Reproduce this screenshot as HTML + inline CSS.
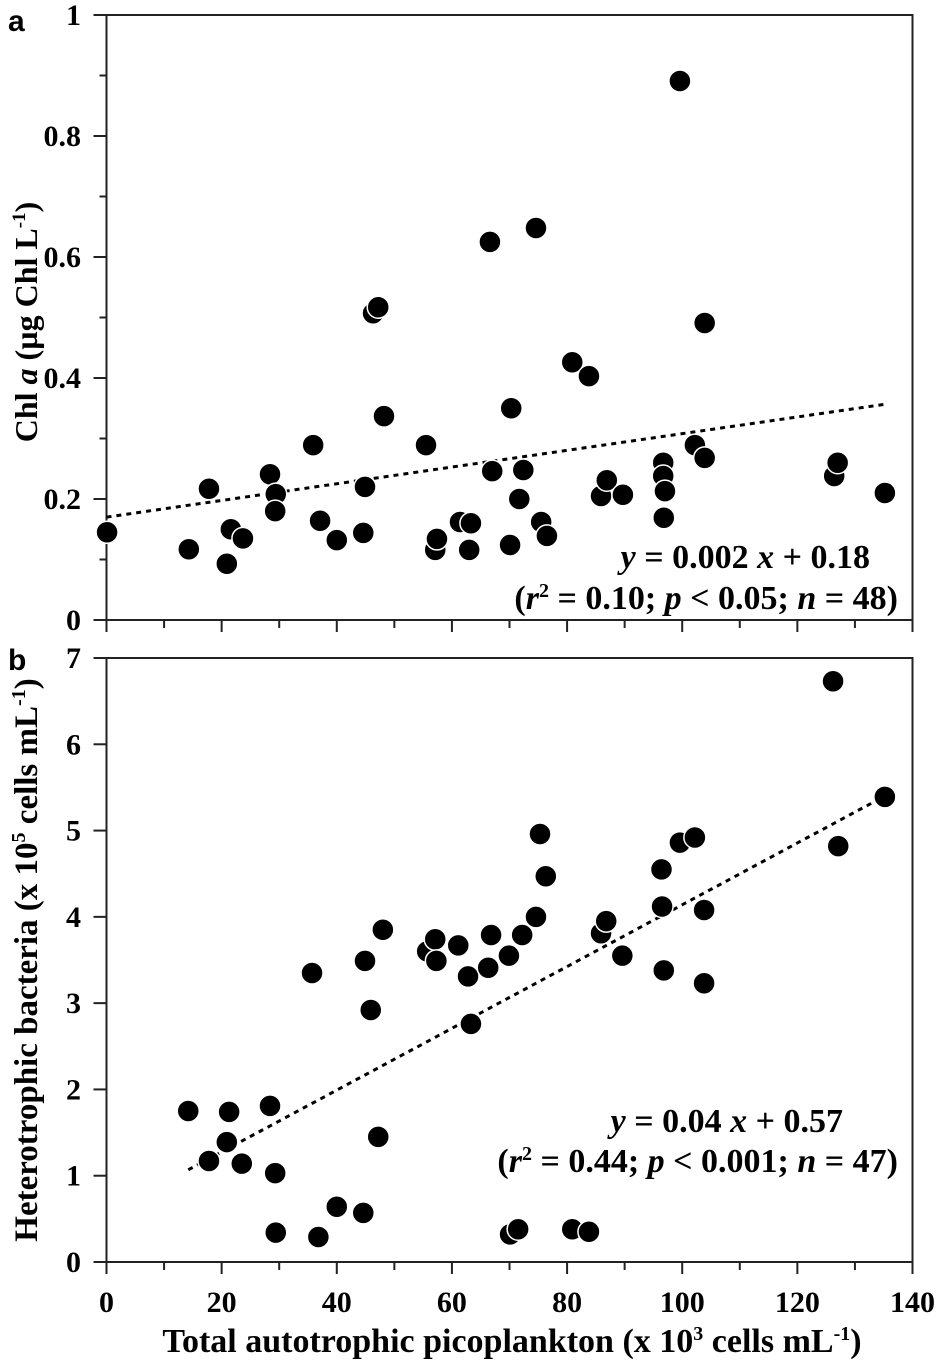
<!DOCTYPE html>
<html><head><meta charset="utf-8"><style>
body{margin:0;background:#fff}
svg text{font-family:"Liberation Serif",serif;font-weight:bold;fill:#000}
</style></head><body>
<svg id="chart" width="937" height="1364" viewBox="0 0 937 1364" xmlns="http://www.w3.org/2000/svg"></svg>
<script>
const xA=[0.1,14.3,17.8,20.9,21.6,23.7,28.4,29.4,29.3,35.9,37.1,40.0,44.9,44.6,46.3,47.2,48.2,55.5,57.1,57.4,61.4,63.0,63.3,66.6,67.0,70.1,70.3,71.7,72.4,74.6,75.5,76.5,80.9,83.8,85.9,86.9,89.7,96.7,96.7,97.0,96.8,99.6,102.2,103.9,103.9,126.4,127.0,135.2];
const yA=[0.145,0.117,0.217,0.093,0.15,0.135,0.241,0.208,0.18,0.289,0.164,0.132,0.22,0.144,0.507,0.517,0.337,0.289,0.116,0.134,0.162,0.116,0.16,0.625,0.246,0.124,0.35,0.2,0.248,0.648,0.162,0.139,0.426,0.403,0.205,0.231,0.207,0.26,0.238,0.213,0.169,0.891,0.289,0.491,0.268,0.238,0.26,0.21];
const xB=[14.2,17.8,21.3,20.9,23.5,28.4,29.3,29.4,35.7,36.8,40.0,44.9,44.6,45.9,47.2,48.0,55.7,57.1,57.3,61.1,62.8,63.3,66.3,66.8,69.9,70.1,71.5,72.2,74.6,75.3,76.3,80.9,83.8,85.9,86.8,89.6,96.4,96.5,96.8,99.6,102.2,103.8,103.8,126.2,127.1,135.2];
const yB=[1.75,1.17,1.74,1.39,1.14,1.81,1.03,0.34,3.35,0.29,0.64,3.49,0.57,2.92,1.45,3.85,3.6,3.74,3.49,3.67,3.31,2.76,3.41,3.79,3.55,0.32,0.38,3.79,4.0,4.96,4.47,0.38,0.35,3.81,3.95,3.55,4.55,4.12,3.38,4.86,4.92,4.08,3.23,6.73,4.82,5.39];
const fitA=[0.17,0.00138,0,135];
const fitB=[0.56,0.0358,14.2,135.2];
const xTicks=[0,20,40,60,80,100,120,140];
const yTicksA=["0","0.2","0.4","0.6","0.8","1"];
const yTicksB=["0","1","2","3","4","5","6","7"];

const svg=document.getElementById('chart');
const NS='http://www.w3.org/2000/svg';
function mk(t,a,p){const e=document.createElementNS(NS,t);for(const k in a)e.setAttribute(k,a[k]);(p||svg).appendChild(e);return e;}
const X=v=>106.5+v*(806/140);
const YA=v=>620-v*605;
const YB=v=>1262-v*(604/7);
function panel(name,top,bottom,Y,ymax,minorStep,labels,xs,ys,fit){
  const g=mk('g',{});
  
  
  const f=mk('rect',{x:106.5,y:top,width:806,height:bottom-top,fill:'none',stroke:'#222','stroke-width':2},g);
  
  
  for(let v=0;v<=140;v+=10){const t=mk('line',{x1:X(v),x2:X(v),y1:bottom,y2:bottom+(v%20==0?12:8),stroke:'#222','stroke-width':2},g);
    }
  const majStep=ymax/(labels.length-1);
  const n=Math.round(ymax/minorStep);
  for(let i=0;i<=n;i++){const v=i*minorStep;const r=v/majStep;const maj=Math.abs(r-Math.round(r))<1e-6;
    const t=mk('line',{x1:106.5,x2:106.5-(maj?13:7),y1:Y(v),y2:Y(v),stroke:'#222','stroke-width':2},g);
    }
  labels.forEach(l=>{const t=mk('text',{x:81,y:Y(parseFloat(l))+10,'text-anchor':'end','font-size':30},g);t.textContent=l;
    });
  const fl=mk('line',{x1:X(fit[2]),y1:Y(fit[0]+fit[1]*fit[2]),x2:X(fit[3]),y2:Y(fit[0]+fit[1]*fit[3]),stroke:'#000','stroke-width':3,'stroke-dasharray':'5,5'},g);
  
  xs.forEach((x,i)=>{const c=mk('circle',{cx:X(x),cy:Y(ys[i]),r:11,fill:'#000',stroke:'#fff','stroke-width':1.5},g);
    });
}
panel('panel-a',15,620,YA,1,0.1,yTicksA,xA,yA,fitA);
panel('panel-b',658,1262,YB,7,1,yTicksB,xB,yB,fitB);
xTicks.forEach(v=>{const t=mk('text',{x:X(v),y:1312,'text-anchor':'middle','font-size':30});t.textContent=v;
  });
</script>
<svg style="position:absolute;left:0;top:0" width="937" height="1364">
<text x="8" y="31" font-size="30" style="font-family:'Liberation Sans',sans-serif;font-weight:bold">a</text>
<text x="8" y="670" font-size="30" style="font-family:'Liberation Sans',sans-serif;font-weight:bold">b</text>
<text transform="translate(37,322) rotate(-90)" text-anchor="middle" font-size="32">Chl <tspan font-style="italic">a</tspan> (µg Chl L<tspan font-size="19" dy="-12">-1</tspan><tspan dy="12">)</tspan></text>
<text transform="translate(37,960) rotate(-90)" text-anchor="middle" font-size="33">Heterotrophic bacteria (x 10<tspan font-size="20" dy="-12">5</tspan><tspan dy="12"> cells mL</tspan><tspan font-size="20" dy="-12">-1</tspan><tspan dy="12">)</tspan></text>
<text x="512" y="1352" text-anchor="middle" font-size="34">Total autotrophic picoplankton (x 10<tspan font-size="20" dy="-12">3</tspan><tspan dy="12"> cells mL</tspan><tspan font-size="20" dy="-12">-1</tspan><tspan dy="12">)</tspan></text>
<text x="870" y="568" text-anchor="end" font-size="34"><tspan font-style="italic">y</tspan> = 0.002 <tspan font-style="italic">x</tspan> + 0.18</text>
<text x="898" y="609" text-anchor="end" font-size="34">(<tspan font-style="italic">r</tspan><tspan font-size="20" dy="-12">2</tspan><tspan dy="12"> = 0.10; </tspan><tspan font-style="italic">p</tspan> &lt; 0.05; <tspan font-style="italic">n</tspan> = 48)</text>
<text x="843" y="1132" text-anchor="end" font-size="34"><tspan font-style="italic">y</tspan> = 0.04 <tspan font-style="italic">x</tspan> + 0.57</text>
<text x="898" y="1172" text-anchor="end" font-size="34">(<tspan font-style="italic">r</tspan><tspan font-size="20" dy="-12">2</tspan><tspan dy="12"> = 0.44; </tspan><tspan font-style="italic">p</tspan> &lt; 0.001; <tspan font-style="italic">n</tspan> = 47)</text>
</svg>
</body></html>
